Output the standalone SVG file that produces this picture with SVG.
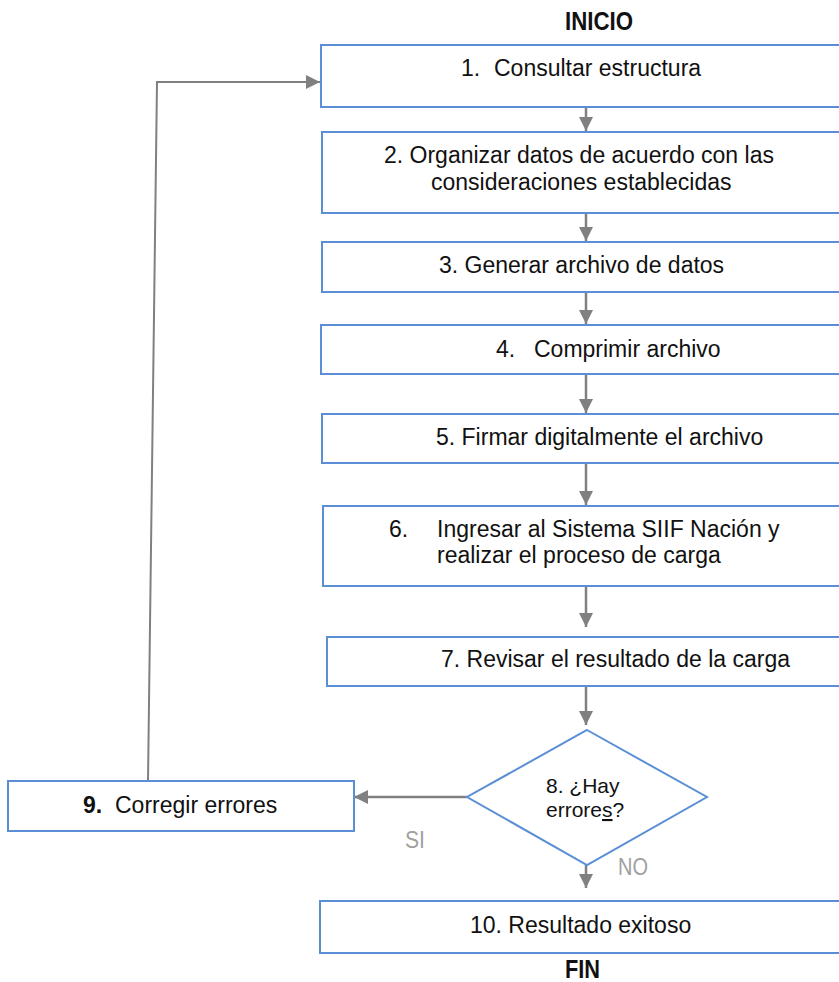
<svg xmlns="http://www.w3.org/2000/svg" width="839" height="982" viewBox="0 0 839 982">
<style>
.box{fill:#fff;stroke:#5a8fd6;stroke-width:2}
.t{font-family:"Liberation Sans",Arial,sans-serif;font-size:23px;fill:#111}
.d{font-family:"Liberation Sans",Arial,sans-serif;font-size:21px;fill:#111}
.n{font-family:"Liberation Sans Narrow","Liberation Sans",Arial,sans-serif;font-size:25px;font-weight:bold;fill:#111}
.lab{font-family:"Liberation Sans Narrow","Liberation Sans",Arial,sans-serif;font-size:23px;fill:#a0a0a0}
.c{fill:none;stroke:#808080;stroke-width:2.5}
.c2{fill:none;stroke:#808080;stroke-width:2}
</style>
<defs>
<marker id="ah" markerUnits="userSpaceOnUse" markerWidth="15" markerHeight="15" refX="14" refY="7" orient="auto">
<path d="M0,0 L14,7 L0,14 z" fill="#808080"/>
</marker>
</defs>
<text class="n" x="565" y="30" textLength="68" lengthAdjust="spacingAndGlyphs">INICIO</text>
<g id="connectors">
<line class="c" x1="586" y1="107" x2="586" y2="131" marker-end="url(#ah)"/>
<line class="c" x1="586" y1="213" x2="586" y2="241" marker-end="url(#ah)"/>
<line class="c" x1="586" y1="292" x2="586" y2="324" marker-end="url(#ah)"/>
<line class="c" x1="586" y1="374" x2="586" y2="413" marker-end="url(#ah)"/>
<line class="c" x1="586" y1="463" x2="586" y2="505" marker-end="url(#ah)"/>
<line class="c" x1="586" y1="586" x2="586" y2="627" marker-end="url(#ah)"/>
<line class="c" x1="586" y1="686" x2="586" y2="725" marker-end="url(#ah)"/>
<line class="c" x1="586" y1="865" x2="586" y2="888" marker-end="url(#ah)"/>
<line class="c" x1="467" y1="797" x2="354" y2="797" marker-end="url(#ah)"/>
<polyline class="c2" points="148,781 157,82 320,82" marker-end="url(#ah)"/>
</g>
<g id="n1">
<rect class="box" x="321" y="45" width="530" height="62"/>
<text class="t" x="461" y="76">1.<tspan x="494">Consultar estructura</tspan></text>
</g>
<g id="n2">
<rect class="box" x="322" y="132" width="530" height="81"/>
<text class="t" x="384" y="163">2. Organizar datos de acuerdo con las</text>
<text class="t" x="431" y="190">consideraciones establecidas</text>
</g>
<g id="n3">
<rect class="box" x="322" y="242" width="530" height="50"/>
<text class="t" x="439" y="273">3. Generar archivo de datos</text>
</g>
<g id="n4">
<rect class="box" x="321" y="325" width="530" height="49"/>
<text class="t" x="496" y="357">4.<tspan x="534">Comprimir archivo</tspan></text>
</g>
<g id="n5">
<rect class="box" x="322" y="414" width="530" height="49"/>
<text class="t" x="436" y="445">5. Firmar digitalmente el archivo</text>
</g>
<g id="n6">
<rect class="box" x="323" y="506" width="530" height="80"/>
<text class="t" x="389" y="537">6.<tspan x="437">Ingresar al Sistema SIIF Nación y</tspan></text>
<text class="t" x="437" y="563">realizar el proceso de carga</text>
</g>
<g id="n7">
<rect class="box" x="327" y="637" width="530" height="49"/>
<text class="t" x="441" y="667">7. Revisar el resultado de la carga</text>
</g>
<g id="n8">
<polygon class="box" points="587,730 707,797 587,865 467,797"/>
<text class="d" x="546" y="793">8. ¿Hay</text>
<text class="d" x="546" y="817">errore<tspan style="text-decoration:underline">s</tspan>?</text>
</g>
<g id="n9">
<rect class="box" x="8" y="781" width="346" height="50"/>
<text class="t" x="83" y="813"><tspan font-weight="bold">9.</tspan><tspan x="115">Corregir errores</tspan></text>
</g>
<g id="n10">
<rect class="box" x="320" y="901" width="530" height="52"/>
<text class="t" x="470" y="933">10. Resultado exitoso</text>
</g>
<text class="lab" x="405" y="848" textLength="20" lengthAdjust="spacingAndGlyphs">SI</text>
<text class="lab" x="618" y="875" textLength="30" lengthAdjust="spacingAndGlyphs">NO</text>
<text class="n" x="565" y="978" textLength="35" lengthAdjust="spacingAndGlyphs">FIN</text>
</svg>
